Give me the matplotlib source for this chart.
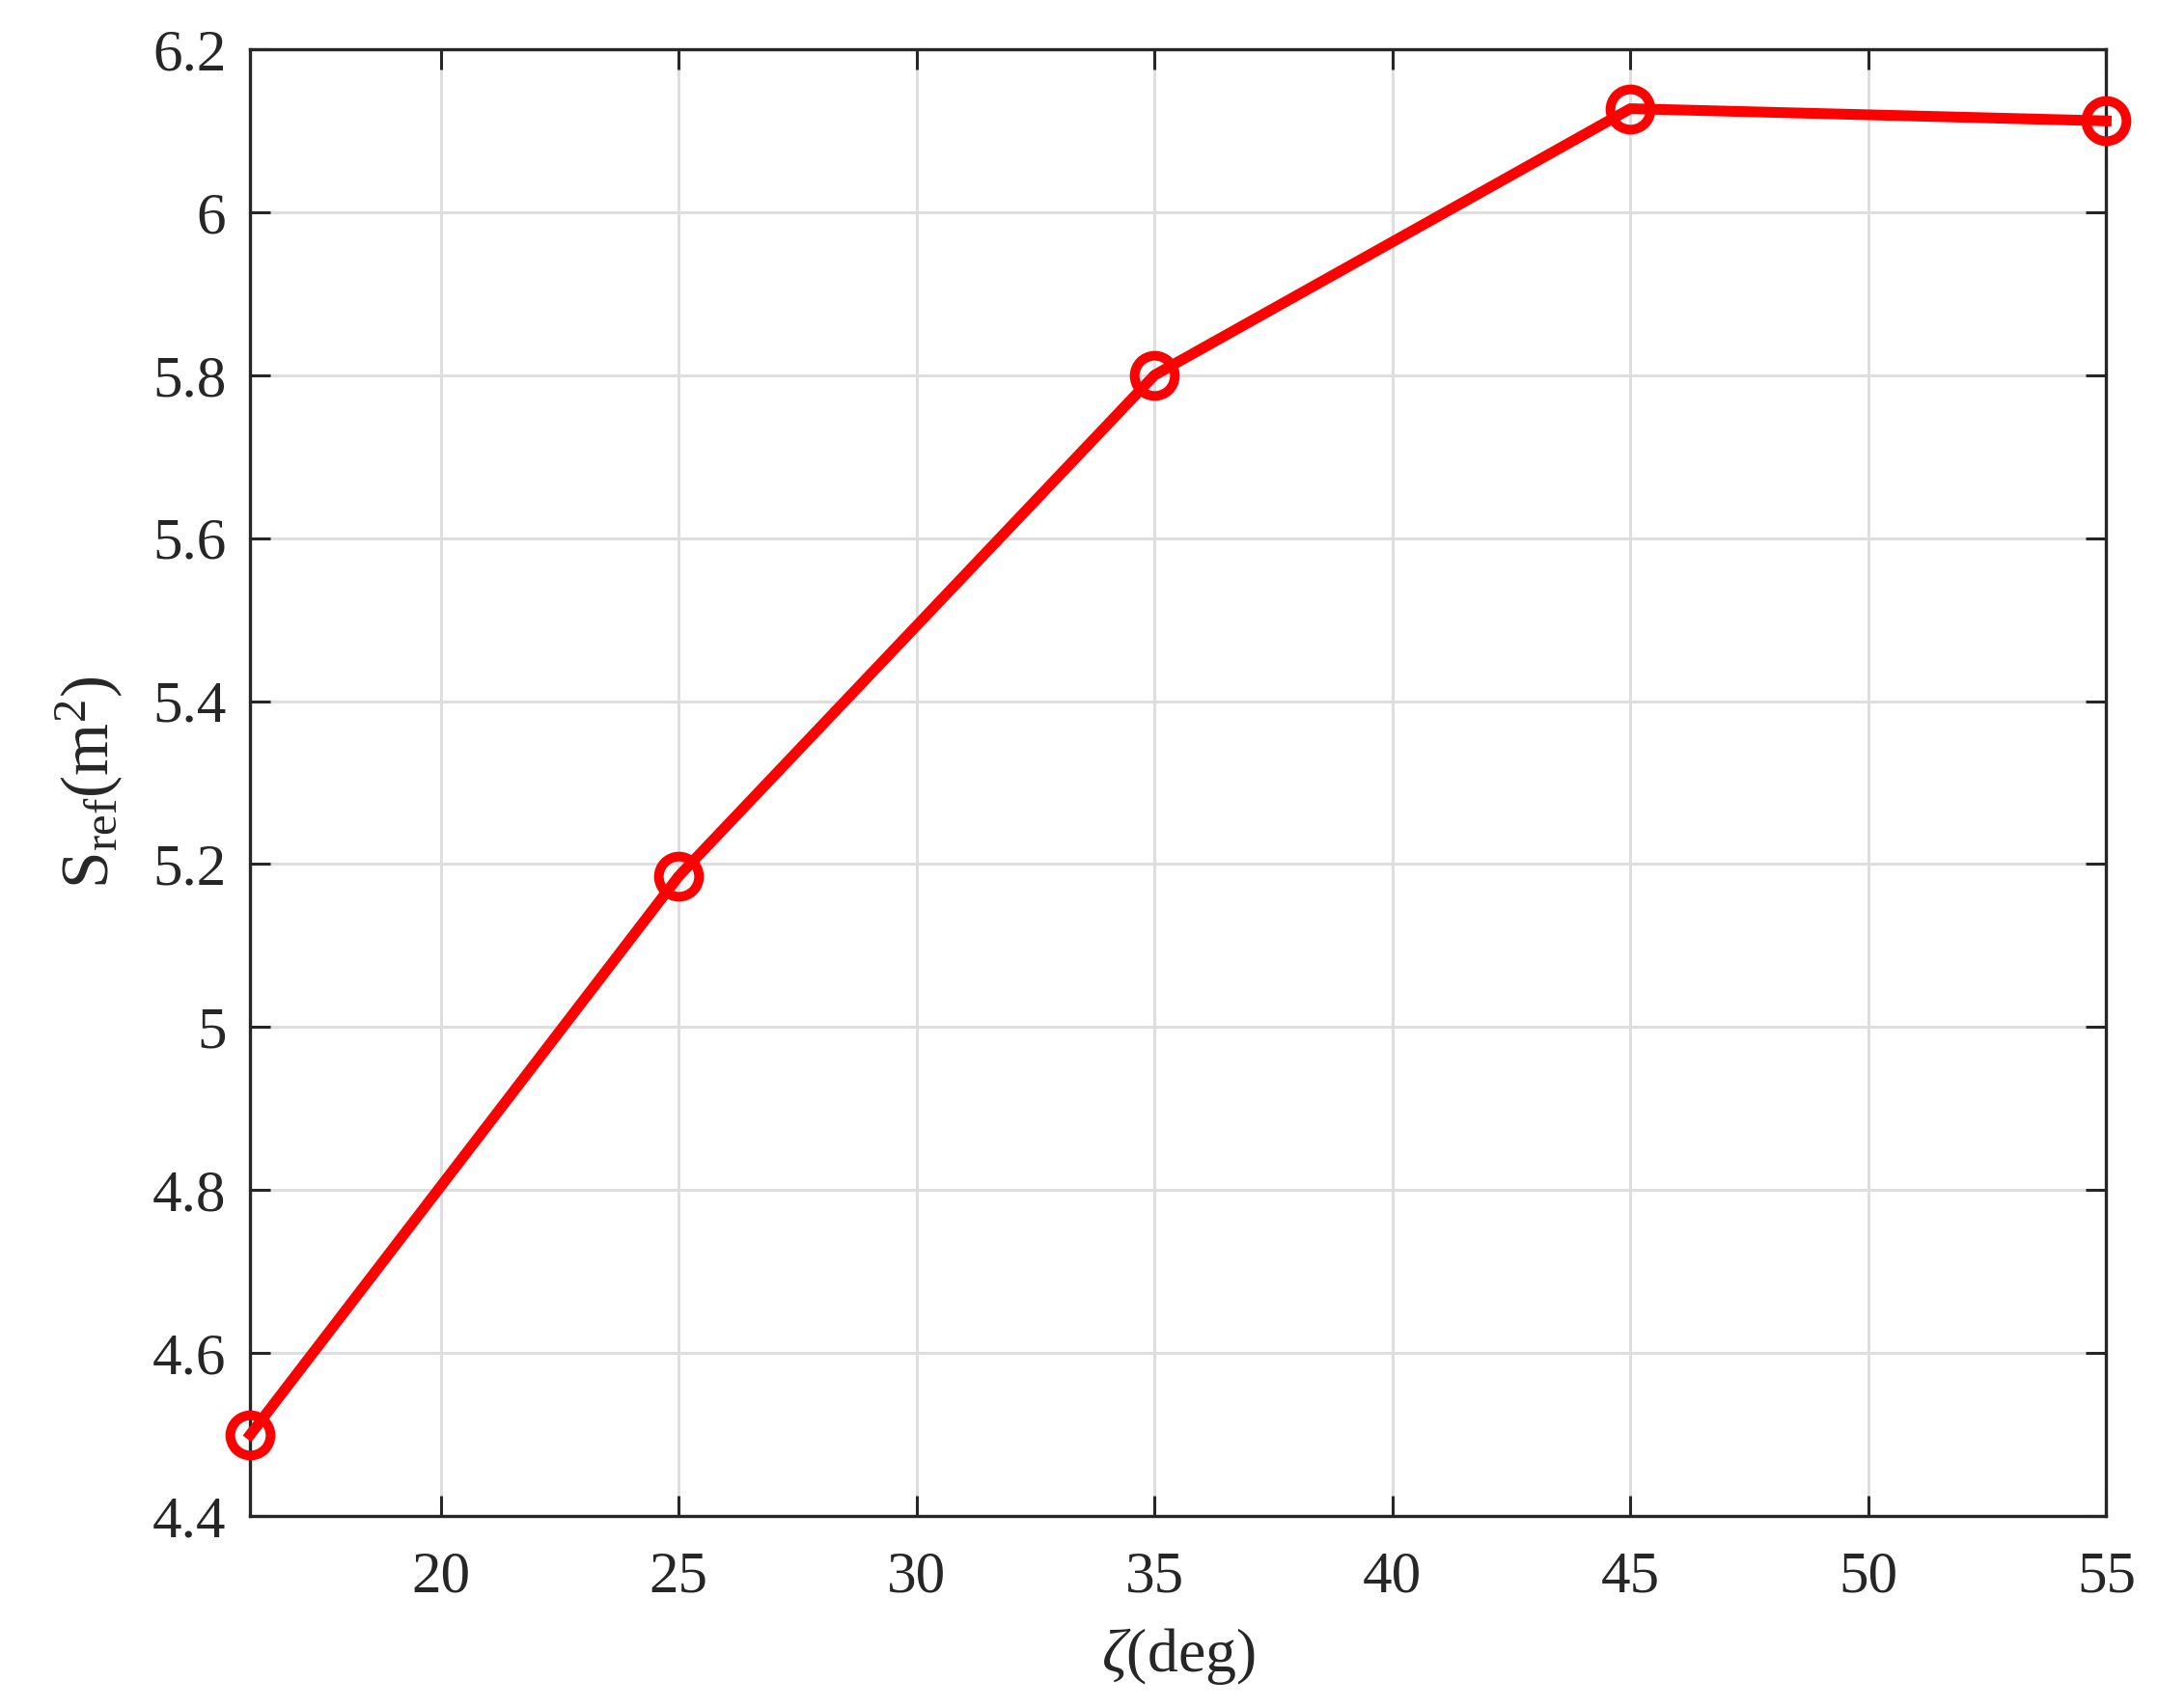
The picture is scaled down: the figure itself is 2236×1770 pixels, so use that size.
import matplotlib
matplotlib.use("Agg")
import matplotlib.pyplot as plt
from matplotlib.ticker import FormatStrFormatter, FuncFormatter

# data
zeta_deg = [16, 25, 35, 45, 55]
s_ref = [4.50, 5.185, 5.80, 6.127, 6.112]

x_ticks = [20, 25, 30, 35, 40, 45, 50, 55]
y_ticks = [4.4, 4.6, 4.8, 5.0, 5.2, 5.4, 5.6, 5.8, 6.0, 6.2]

plt.rcParams["font.family"] = ["Liberation Serif", "DejaVu Serif"]
plt.rcParams["mathtext.fontset"] = "custom"
plt.rcParams["mathtext.rm"] = "Liberation Serif"
plt.rcParams["mathtext.it"] = "Liberation Serif:italic"

dark = "#262626"

fig = plt.figure(figsize=(11.18, 8.85), dpi=200)
ax = fig.add_axes([0.116, 0.1124, 0.86, 0.8588])

ax.plot(zeta_deg, s_ref, color="red", lw=4.0, marker="o", ms=15,
        mfc="none", mec="red", mew=3.6, clip_on=False, zorder=5)

ax.set_xlim(16, 55)
ax.set_ylim(4.4, 6.2)
ax.set_xticks(x_ticks)
ax.set_yticks(y_ticks)
ax.yaxis.set_major_formatter(FuncFormatter(lambda v, p: "%g" % round(v, 2)))
ax.xaxis.set_major_formatter(FormatStrFormatter("%g"))

ax.grid(True, color="#dedede", lw=1.1)
ax.set_axisbelow(True)
ax.tick_params(direction="in", length=7.5, width=1.1, colors=dark,
               labelsize=22, top=True, right=True)
ax.tick_params(axis="x", pad=13)
ax.tick_params(axis="y", pad=9)
for sp in ax.spines.values():
    sp.set_color(dark)
    sp.set_linewidth(1.2)

ax.set_xlabel(r"$\zeta$(deg)", fontsize=23, color=dark, labelpad=8)
ax.set_ylabel(r"$\mathrm{S_{ref}(m^2)}$", fontsize=25, color=dark, labelpad=10)

fig.savefig("out.png", dpi=200)
